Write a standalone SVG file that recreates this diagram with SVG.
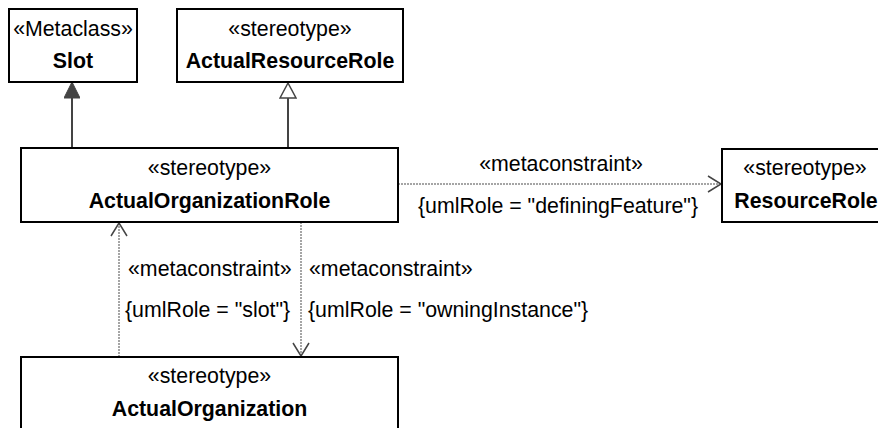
<svg xmlns="http://www.w3.org/2000/svg" width="878" height="428" viewBox="0 0 878 428">
<style>
  .box { fill: #ffffff; stroke: #000000; stroke-width: 2; }
  .st { font-family: "Liberation Sans", Arial, sans-serif; font-size: 21.33px; fill: #000; text-anchor: middle; }
  .nm { font-family: "Liberation Sans", Arial, sans-serif; font-size: 21.33px; font-weight: bold; fill: #000; text-anchor: middle; }
  .lbl { font-family: "Liberation Sans", Arial, sans-serif; font-size: 21.33px; fill: #000; }
  .gen { stroke: #444444; stroke-width: 2; fill: none; }
  .dep { stroke: #888888; stroke-width: 1.5; stroke-dasharray: 2 1; fill: none; }
</style>
<defs>
  <marker id="filledTri" markerWidth="18" markerHeight="16" refX="17" refY="8" orient="auto" markerUnits="userSpaceOnUse">
    <path d="M1,0 L17,8 L1,16 Z" fill="#444444" stroke="#444444" stroke-width="1"/>
  </marker>
  <marker id="hollowTri" markerWidth="18" markerHeight="18" refX="17" refY="9" orient="auto" markerUnits="userSpaceOnUse">
    <path d="M1,1 L16,9 L1,17 Z" fill="#ffffff" stroke="#444444" stroke-width="1.5"/>
  </marker>
  <marker id="openArrow" markerWidth="16" markerHeight="20" refX="14" refY="10" orient="auto" markerUnits="userSpaceOnUse">
    <path d="M1,2 L14,10 L1,18" fill="none" stroke="#444444" stroke-width="1.5"/>
  </marker>
</defs>

<g id="connectors">
  <line class="gen" x1="72" y1="148" x2="72" y2="82" marker-end="url(#filledTri)"/>
  <line class="gen" x1="288" y1="148" x2="288" y2="82" marker-end="url(#hollowTri)"/>
  <line class="dep" x1="398" y1="184" x2="721" y2="184" marker-end="url(#openArrow)"/>
  <line class="dep" x1="119" y1="357" x2="119" y2="223" marker-end="url(#openArrow)"/>
  <line class="dep" x1="301" y1="222" x2="301" y2="356" marker-end="url(#openArrow)"/>
  <text class="lbl" x="561" y="171" text-anchor="middle">«metaconstraint»</text>
  <text class="lbl" x="558" y="213" text-anchor="middle">{umlRole = "definingFeature"}</text>
  <text class="lbl" x="128" y="276">«metaconstraint»</text>
  <text class="lbl" x="125" y="317">{umlRole = "slot"}</text>
  <text class="lbl" x="309" y="276">«metaconstraint»</text>
  <text class="lbl" x="308" y="317">{umlRole = "owningInstance"}</text>
</g>

<g id="Slot">
  <rect class="box" x="9" y="9" width="128" height="73"/>
  <text class="st" x="73" y="35.5">«Metaclass»</text>
  <text class="nm" x="73" y="68">Slot</text>
</g>

<g id="ActualResourceRole">
  <rect class="box" x="177" y="9" width="226" height="73"/>
  <text class="st" x="290" y="35.5">«stereotype»</text>
  <text class="nm" x="290" y="68">ActualResourceRole</text>
</g>

<g id="ActualOrganizationRole">
  <rect class="box" x="21" y="148" width="377" height="74"/>
  <text class="st" x="209.5" y="175">«stereotype»</text>
  <text class="nm" x="209.5" y="207.5">ActualOrganizationRole</text>
</g>

<g id="ResourceRole">
  <rect class="box" x="722" y="149" width="168" height="73"/>
  <text class="st" x="805" y="175">«stereotype»</text>
  <text class="nm" x="806" y="207.5">ResourceRole</text>
</g>

<g id="ActualOrganization">
  <rect class="box" x="21" y="357" width="377" height="74"/>
  <text class="st" x="209.5" y="383">«stereotype»</text>
  <text class="nm" x="209.5" y="416">ActualOrganization</text>
</g>
</svg>
